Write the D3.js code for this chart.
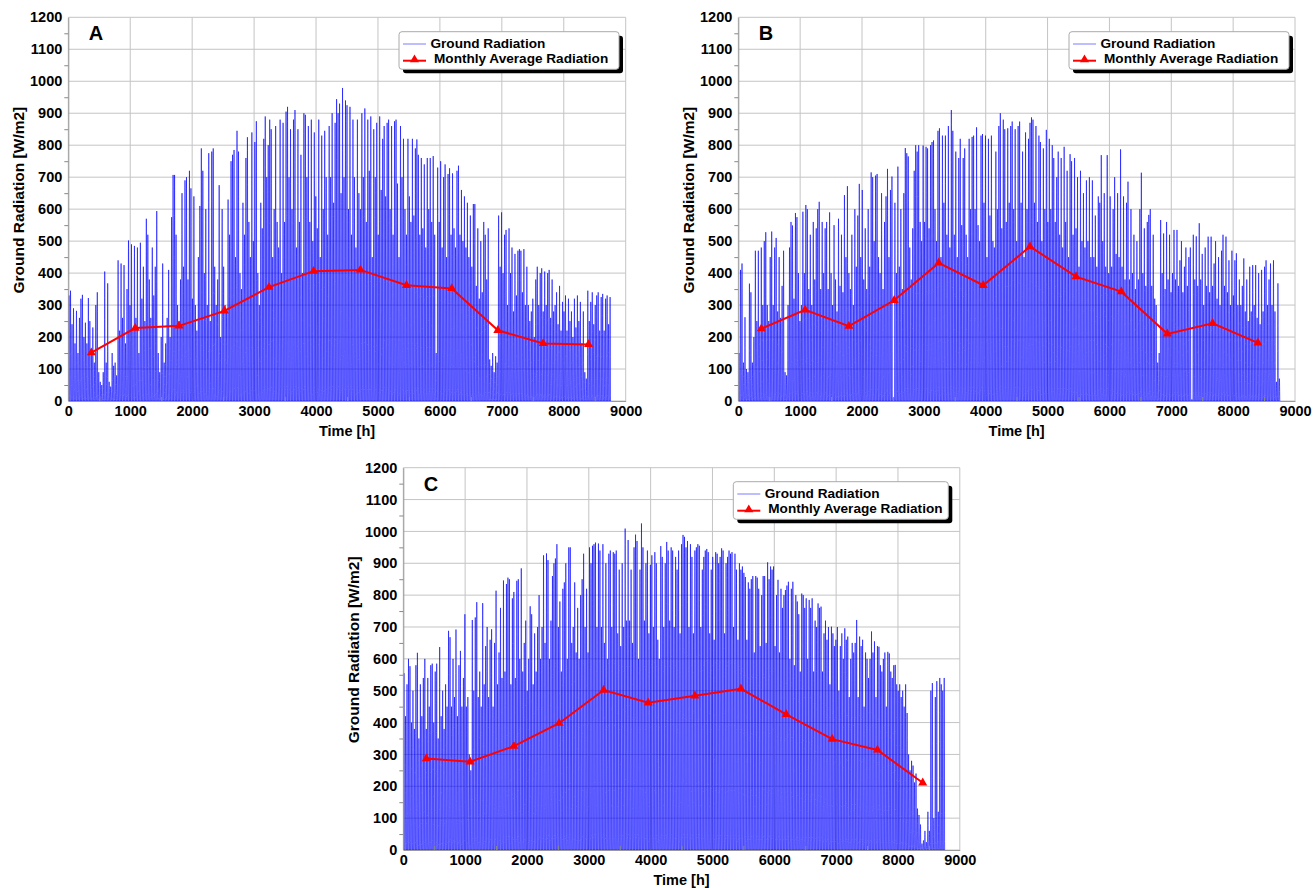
<!DOCTYPE html>
<html><head><meta charset="utf-8">
<script src="https://cdn.jsdelivr.net/npm/d3@7"></script>
<style>
body{margin:0;background:#fff}
text{font-family:"Liberation Sans",Arial,sans-serif;font-weight:bold;fill:#000}
</style>
</head><body>
<svg id="chart" width="1313" height="888"></svg>
<script>
// ---------- data ----------
const X_TICKS = [0,1000,2000,3000,4000,5000,6000,7000,8000,9000];
const Y_TICKS = [0,100,200,300,400,500,600,700,800,900,1000,1100,1200];
const MONTH_HOURS = [372,1080,1788,2520,3240,3960,4716,5460,6192,6936,7668,8400];
const A_MONTHLY = [151,228,235,282,356,406,410,362,352,221,180,177];
const B_MONTHLY = [226,285,234,315,432,362,483,389,342,210,243,182];
const C_MONTHLY = [287,277,326,398,502,462,484,506,426,348,314,211];
// normalised hourly shape of one day (hour 0..23)
const HOUR_PROFILE = [0,0,0,0,0,0,0.04,0.2,0.42,0.63,0.8,0.93,1,0.95,0.82,0.64,0.43,0.22,0.05,0,0,0,0,0];
// daily peak radiation (W/m2), one value per day (Jan..Dec rows)
const A_DAILY_PEAK = [
 330,345,240,290,180,282,150,260,320,332,200,245,180,322,250,160,230,120,300,340,90,60,50,90,405,120,368,60,45,150,110,
 120,80,440,220,430,260,425,180,350,502,300,490,220,485,260,480,150,495,320,420,250,570,520,380,260,480,330,420,
 594,150,90,200,430,120,180,260,410,200,575,707,707,520,300,250,380,650,420,690,700,380,720,665,320,640,300,220,450,610,790,
 720,400,600,300,775,250,780,790,420,300,380,675,200,600,420,300,280,630,520,750,770,785,450,845,780,400,350,620,520,760,
 825,560,450,840,500,810,875,400,300,620,540,820,890,700,800,880,850,450,600,860,560,480,880,400,870,560,905,920,700,850,600,
 880,910,480,850,560,770,400,900,895,700,860,560,880,500,840,640,540,880,450,830,600,845,700,520,860,700,900,620,870,944,
 900,930,650,979,700,940,925,600,920,520,880,700,480,880,650,600,900,700,915,560,880,720,890,450,850,700,870,520,890,660,820,
 860,640,870,880,600,860,520,875,880,680,450,860,700,820,600,520,820,640,560,820,580,790,818,770,520,760,540,740,480,760,600,
 760,560,766,520,150,730,560,750,480,700,740,450,710,728,520,712,540,480,720,736,520,660,500,640,480,620,450,580,420,616,
 616,360,540,320,500,340,560,520,380,540,130,110,150,90,140,120,580,420,590,400,520,535,300,540,400,480,280,460,330,470,475,
 470,340,475,300,420,300,250,280,320,200,380,420,300,400,415,280,405,300,400,410,260,380,280,300,340,240,360,220,310,280,
 330,220,320,250,280,200,320,230,330,250,310,180,280,90,70,345,250,310,340,240,300,330,340,220,325,335,220,320,330,240,325
];
const B_DAILY_PEAK = [
 150,410,430,120,262,100,90,367,340,120,200,470,250,470,220,480,300,500,528,300,250,450,530,300,480,510,280,450,260,360,470,
 90,80,300,480,560,549,320,588,575,400,250,300,592,400,613,600,350,520,300,560,380,540,600,623,350,560,400,540,
 560,350,590,400,300,550,380,280,570,360,520,340,644,450,672,400,350,520,300,600,420,580,679,450,660,380,540,350,600,420,715,
 700,500,705,710,450,400,650,350,560,640,726,450,660,702,10,620,400,733,420,600,350,650,791,775,765,480,380,540,720,800,
 780,800,560,500,799,560,795,790,540,800,810,815,600,500,845,853,450,830,620,830,520,860,480,910,845,520,780,450,760,820,550,
 760,790,520,450,820,600,826,830,600,856,550,500,830,835,620,830,450,820,580,830,500,480,780,600,860,900,540,880,850,560,
 853,620,860,874,600,850,500,860,874,620,780,450,840,600,820,870,887,880,620,860,560,830,810,500,790,600,848,560,820,600,800,
 760,560,700,780,520,760,480,795,560,720,450,772,750,520,760,540,700,420,720,500,650,480,690,500,700,450,690,450,580,420,640,
 620,769,500,650,420,769,400,640,420,600,700,460,650,450,787,420,640,380,620,686,380,600,400,520,350,500,380,600,714,400,
 540,360,560,582,600,360,520,320,300,120,150,566,400,524,350,560,380,520,340,400,535,380,535,360,440,500,340,420,480,360,450,
 480,5,520,380,515,360,556,380,460,300,480,360,514,340,514,360,430,500,320,450,300,470,520,360,514,340,440,300,470,330,
 440,462,300,380,300,360,446,280,380,250,420,280,425,300,425,260,400,240,410,280,420,440,300,380,430,300,440,280,60,368,70
];
const C_DAILY_PEAK = [
 555,420,520,600,577,400,500,380,580,619,350,520,420,540,600,380,540,450,580,585,400,560,585,350,637,420,500,380,520,450,688,
 668,450,600,480,692,420,580,625,450,540,740,450,480,300,250,722,500,730,778,480,560,450,775,520,640,700,480,660,
 693,450,650,814,520,620,760,540,846,560,835,855,850,520,790,810,540,845,850,600,884,560,650,720,500,600,765,740,520,680,560,
 700,800,600,700,925,650,931,910,600,720,860,900,915,960,700,780,560,820,840,900,600,950,950,650,700,840,620,760,600,800,
 850,930,700,820,620,950,900,955,960,965,700,962,940,700,960,650,900,600,930,940,700,935,930,940,680,880,640,900,700,1009,720,
 973,720,880,650,950,990,970,600,880,1025,950,720,900,940,680,895,925,700,935,900,660,600,954,920,700,900,967,940,720,950,
 940,700,920,880,940,680,960,989,983,950,970,700,960,920,680,940,950,960,955,700,880,920,940,945,935,680,880,920,660,935,930,
 900,920,947,940,680,900,920,940,930,935,700,930,880,660,900,880,890,870,857,660,840,820,850,860,620,860,855,820,640,800,860,
 860,650,903,850,890,880,890,640,800,848,620,820,760,800,816,830,842,600,820,842,580,800,780,740,560,805,800,760,790,600,
 785,760,790,560,720,700,774,760,764,560,680,720,660,700,520,701,680,640,660,700,500,640,680,600,696,660,670,480,600,650,620,
 650,722,480,670,640,660,450,620,600,540,600,686,620,655,480,640,638,580,560,600,620,450,622,617,560,540,580,581,520,500,
 520,480,500,450,520,430,300,250,280,265,212,240,130,110,80,20,30,60,25,120,60,500,524,100,480,530,120,540,520,500,540
];

// ---------- layout ----------
const panels = [
  {label:"A", daily:A_DAILY_PEAK, monthly:A_MONTHLY, l:68.3, r:625.7, t:17.3, b:401, leg:{x:399,y:31.7,w:220,h:37.6}},
  {label:"B", daily:B_DAILY_PEAK, monthly:B_MONTHLY, l:738.3, r:1295, t:17.3, b:401, leg:{x:1069,y:31.7,w:220,h:37.6}},
  {label:"C", daily:C_DAILY_PEAK, monthly:C_MONTHLY, l:403.3, r:959.8, t:467.7, b:850, leg:{x:733.3,y:481.7,w:215,h:37.6}}
];

const svg = d3.select("#chart");
const GRID = "#c4c4c4";
const FONT = '"Liberation Sans",Arial,sans-serif';

panels.forEach((p, pi) => {
  const x = d3.scaleLinear().domain([0, 9000]).range([p.l, p.r]);
  const y = d3.scaleLinear().domain([0, 1200]).range([p.b, p.t]);
  const g = svg.append("g");

  // grid
  g.append("g").selectAll("line").data(Y_TICKS).join("line")
    .attr("x1", p.l).attr("x2", p.r).attr("y1", d => y(d)).attr("y2", d => y(d))
    .attr("stroke", GRID).attr("stroke-width", 1);
  g.append("g").selectAll("line").data(X_TICKS).join("line")
    .attr("y1", p.t).attr("y2", p.b).attr("x1", d => x(d)).attr("x2", d => x(d))
    .attr("stroke", GRID).attr("stroke-width", 1);

  // clip
  const cid = "clip" + pi;
  svg.append("clipPath").attr("id", cid).append("rect")
    .attr("x", p.l).attr("y", p.t).attr("width", p.r - p.l).attr("height", p.b - p.t);

  // hourly series
  const pts = [];
  p.daily.forEach((pk, d) => {
    HOUR_PROFILE.forEach((f, h) => pts.push([d * 24 + h, pk * f]));
  });
  const line = d3.line().x(d => x(d[0])).y(d => y(d[1]));
  g.append("path").attr("d", line(pts)).attr("clip-path", `url(#${cid})`)
    .attr("fill", "none").attr("stroke", "#0000ff").attr("stroke-opacity", 0.75).attr("stroke-width", 0.8);

  // axes
  const fmt = d3.format("d");
  const yAxis = d3.axisLeft(y).tickValues(Y_TICKS).tickFormat(fmt).tickSize(0).tickPadding(6);
  const ya = g.append("g").attr("transform", `translate(${p.l},0)`).call(yAxis);
  ya.select(".domain").attr("stroke", "#999");
  ya.selectAll("text").attr("font-size", 14.5).style("font-family", FONT).style("font-weight", "bold");
  const yMinor = d3.axisLeft(y).tickValues(d3.range(50, 1200, 100)).tickSize(4).tickFormat("");
  g.append("g").attr("transform", `translate(${p.l},0)`).call(yMinor)
    .call(s => s.select(".domain").remove()).selectAll("line").attr("stroke", "#888");

  const xAxis = d3.axisBottom(x).tickValues(X_TICKS).tickFormat(fmt).tickSize(0).tickPadding(5);
  const xa = g.append("g").attr("transform", `translate(0,${p.b})`).call(xAxis);
  xa.select(".domain").attr("stroke", "#999");
  xa.selectAll("text").attr("font-size", 14.5).style("font-family", FONT).style("font-weight", "bold");
  const xMinor = d3.axisTop(x).tickValues(d3.range(500, 9000, 1000)).tickSize(4).tickFormat("");
  g.append("g").attr("transform", `translate(0,${p.b})`).call(xMinor)
    .call(s => s.select(".domain").remove()).selectAll("line").attr("stroke", "#888");

  // monthly averages
  const mline = d3.line().x((d, i) => x(MONTH_HOURS[i])).y(d => y(d));
  g.append("path").attr("d", mline(p.monthly)).attr("fill", "none")
    .attr("stroke", "#ff0000").attr("stroke-width", 2);
  const tri = d3.symbol().type(d3.symbolTriangle).size(36);
  g.append("g").selectAll("path").data(p.monthly).join("path")
    .attr("d", tri).attr("fill", "#ff0000")
    .attr("transform", (d, i) => `translate(${x(MONTH_HOURS[i])},${y(d)})`);

  // panel letter
  g.append("text").attr("x", x(330)).attr("y", y(1200) + 23).attr("font-size", 20).text(p.label);

  // axis titles
  g.append("text").attr("x", (p.l + p.r) / 2).attr("y", p.b + 35).attr("text-anchor", "middle")
    .attr("font-size", 14.5).text("Time [h]");
  g.append("text").attr("transform", `translate(${p.l - 50},${(p.t + p.b) / 2 - 9}) rotate(-90)`)
    .attr("text-anchor", "middle").attr("dominant-baseline", "central")
    .attr("font-size", 15.5).text("Ground Radiation [W/m2]");

  // legend
  const L = p.leg;
  const lg = g.append("g").attr("transform", `translate(${L.x},${L.y})`);
  lg.append("rect").attr("x", 4).attr("y", 4).attr("width", L.w).attr("height", L.h).attr("rx", 3).attr("fill", "#000");
  lg.append("rect").attr("x", 0).attr("y", 0).attr("width", L.w).attr("height", L.h).attr("rx", 3)
    .attr("fill", "#fff").attr("stroke", "#aaa");
  lg.append("line").attr("x1", 4).attr("x2", 27).attr("y1", 12.3).attr("y2", 12.3)
    .attr("stroke", "#0000ff").attr("stroke-opacity", 0.35).attr("stroke-width", 1.5);
  lg.append("text").attr("x", 31.5).attr("y", 16).attr("font-size", 13.6).text("Ground Radiation");
  lg.append("line").attr("x1", 4).attr("x2", 27).attr("y1", 29).attr("y2", 29)
    .attr("stroke", "#ff0000").attr("stroke-width", 2);
  lg.append("path").attr("d", tri).attr("fill", "#ff0000").attr("transform", "translate(15.5,28)");
  lg.append("text").attr("x", 35).attr("y", 31.6).attr("font-size", 13.6).text("Monthly Average Radiation");
});
</script>
</body></html>
